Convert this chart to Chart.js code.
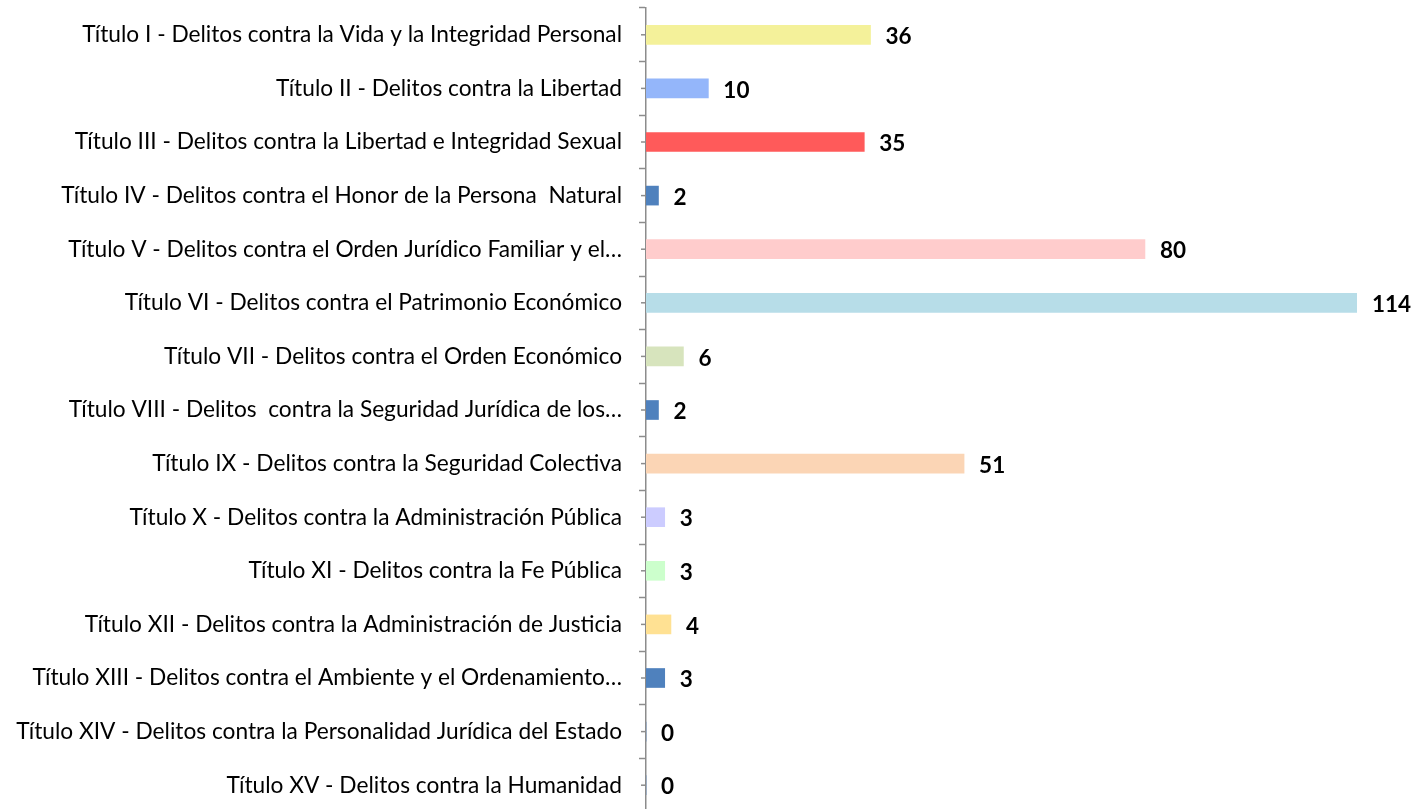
<!DOCTYPE html>
<html>
<head>
<meta charset="utf-8">
<script src="https://cdn.jsdelivr.net/npm/chart.js@4.4.0/dist/chart.umd.min.js"></script>
<style>
    html, body { margin: 0; padding: 0; background: #fff; overflow: hidden; }
    #wrap { width: 1418px; height: 812px; position: relative; }
</style>
</head>
<body>
<div id="wrap"><canvas id="myChart"></canvas></div>
<script>
const categories = [
    'Título I - Delitos contra la Vida y la Integridad Personal',
    'Título II - Delitos contra la Libertad',
    'Título III - Delitos contra la Libertad e Integridad Sexual',
    'Título IV - Delitos contra el Honor de la Persona  Natural',
    'Título V - Delitos contra el Orden Jurídico Familiar y el…',
    'Título VI - Delitos contra el Patrimonio Económico',
    'Título VII - Delitos contra el Orden Económico',
    'Título VIII - Delitos  contra la Seguridad Jurídica de los…',
    'Título IX - Delitos contra la Seguridad Colectiva',
    'Título X - Delitos contra la Administración Pública',
    'Título XI - Delitos contra la Fe Pública',
    'Título XII - Delitos contra la Administración de Justicia',
    'Título XIII - Delitos contra el Ambiente y el Ordenamiento…',
    'Título XIV - Delitos contra la Personalidad Jurídica del Estado',
    'Título XV - Delitos contra la Humanidad'
];
const values = [36, 10, 35, 2, 80, 114, 6, 2, 51, 3, 3, 4, 3, 0, 0];
const barColors = [
    '#f4f19a', '#94b6fa', '#ff5a5a', '#4f81bd', '#ffcccc',
    '#b7dde8', '#d7e4bd', '#4f81bd', '#fbd5b5', '#ccccff',
    '#ccffcc', '#ffe193', '#4f81bd', '#4f81bd', '#4f81bd'
];

const FONT = 'Lato, Carlito, Calibri, sans-serif';

// value labels + short ticks at category centers
const extras = {
    id: 'extras',
    afterDatasetsDraw(chart) {
        const ctx = chart.ctx;
        const yScale = chart.scales.y;
        const left = chart.chartArea.left;
        ctx.save();
        ctx.strokeStyle = '#8c8c8c';
        ctx.lineWidth = 1.5;
        categories.forEach((c, i) => {
            const y = yScale.getPixelForValue(i);
            ctx.beginPath();
            ctx.moveTo(left - 5, y);
            ctx.lineTo(left, y);
            ctx.stroke();
        });
        const meta = chart.getDatasetMeta(0);
        ctx.fillStyle = '#000';
        ctx.font = 'bold 22.5px ' + FONT;
        ctx.textAlign = 'left';
        ctx.textBaseline = 'middle';
        meta.data.forEach((bar, i) => {
            ctx.fillText(String(values[i]), bar.x + 15, bar.y + 2);
        });
        ctx.restore();
    }
};

const ctx = document.getElementById('myChart').getContext('2d');
new Chart(ctx, {
    type: 'bar',
    data: {
        labels: categories,
        datasets: [{
            data: values,
            backgroundColor: barColors,
            borderWidth: 0,
            barThickness: 19
        }]
    },
    options: {
        indexAxis: 'y',
        responsive: true,
        maintainAspectRatio: false,
        animation: false,
        layout: { padding: { left: 0, right: 61, top: 8, bottom: 0 } },
        plugins: {
            legend: { display: false },
            tooltip: { enabled: false }
        },
        scales: {
            x: {
                display: false,
                min: 0,
                max: 114
            },
            y: {
                afterFit(scale) {
                    scale.width = 646;
                    scale.paddingTop = 0;
                    scale.paddingBottom = 0;
                },
                grid: {
                    offset: true,
                    drawOnChartArea: false,
                    drawTicks: true,
                    tickLength: 7,
                    tickWidth: 1.5,
                    color: '#8c8c8c'
                },
                border: { display: true, color: '#8c8c8c', width: 1.5 },
                ticks: {
                    autoSkip: false,
                    padding: 17,
                    color: '#000',
                    font: { family: FONT, size: 22.7 }
                }
            }
        }
    },
    plugins: [extras]
});
</script>
</body>
</html>
